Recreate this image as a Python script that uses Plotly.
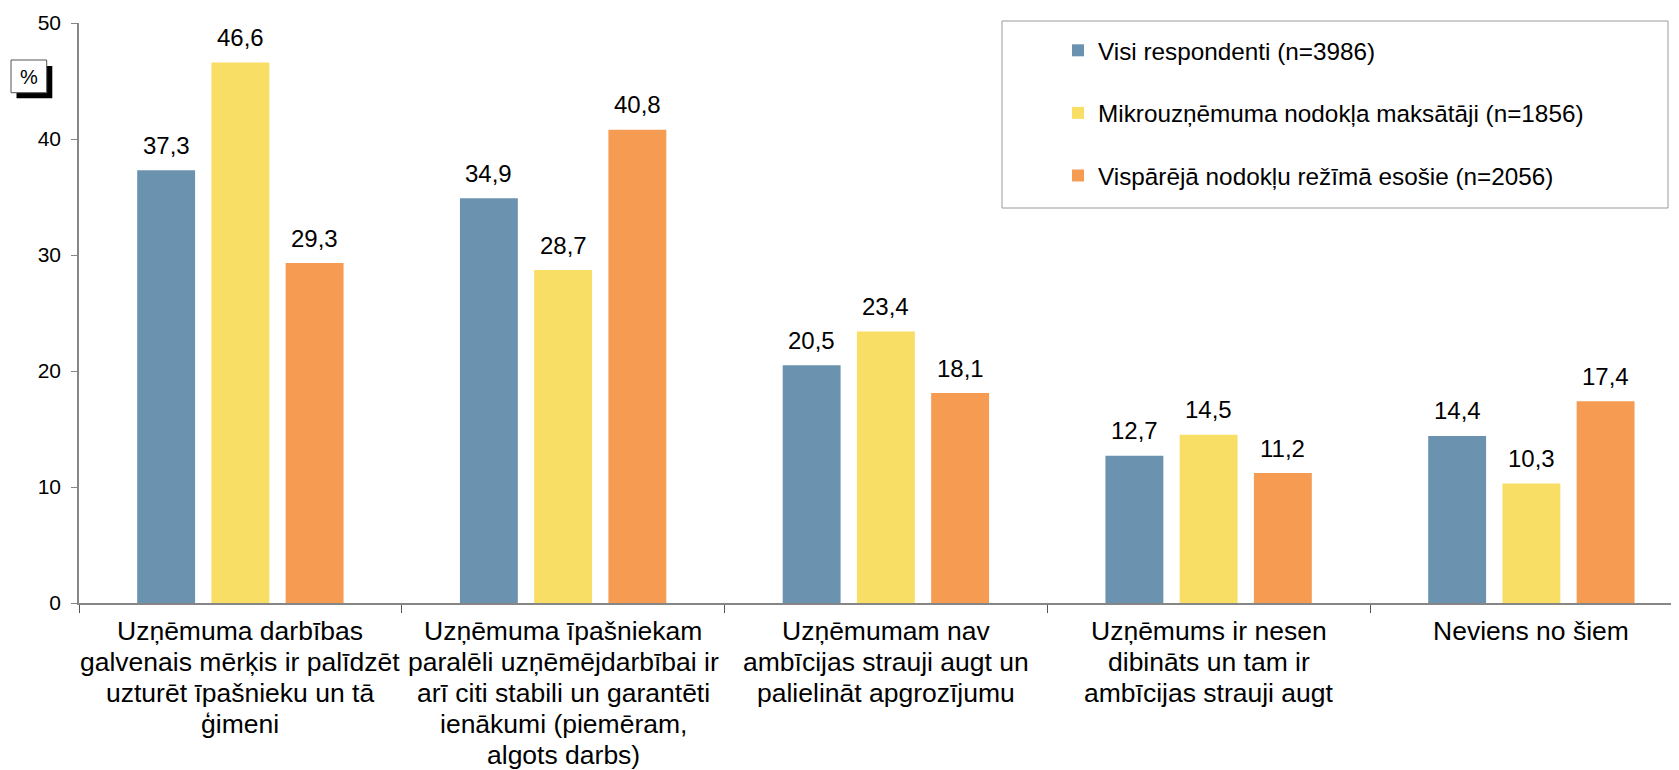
import plotly.graph_objects as go

categories = [
    "Uzņēmuma darbības<br>galvenais mērķis ir palīdzēt<br>uzturēt īpašnieku un tā<br>ģimeni",
    "Uzņēmuma īpašniekam<br>paralēli uzņēmējdarbībai ir<br>arī citi stabili un garantēti<br>ienākumi (piemēram,<br>algots darbs)",
    "Uzņēmumam nav<br>ambīcijas strauji augt un<br>palielināt apgrozījumu",
    "Uzņēmums ir nesen<br>dibināts un tam ir<br>ambīcijas strauji augt",
    "Neviens no šiem",
]
series_names = [
    "Visi respondenti (n=3986)",
    "Mikrouzņēmuma nodokļa maksātāji (n=1856)",
    "Vispārējā nodokļu režīmā esošie (n=2056)",
]
visi = [37.3, 34.9, 20.5, 12.7, 14.4]
mikro = [46.6, 28.7, 23.4, 14.5, 10.3]
vispar = [29.3, 40.8, 18.1, 11.2, 17.4]
colors = ["#6b93b0", "#f9de66", "#f69b52"]

# the page puts the figure 8px in from the top-left corner
OFF = 8
W, H = 1679, 770
ML, MR, MT, MB = 79 - OFF, 0, 23 - OFF, 770 - (603 - OFF)
plot_w = W - ML - MR
plot_h = H - MT - MB
cat_px = 322.75
bargap = 0.31
slot_px = (1 - bargap) / 3 * cat_px
font = "Liberation Sans, Arial, sans-serif"


def px(x):
    # screen pixel -> paper x
    return (x - OFF - ML) / plot_w


def py(y):
    # screen pixel -> paper y
    return (H - MB - (y - OFF)) / plot_h


fig = go.Figure()
for i, (name, vals) in enumerate(zip(series_names, [visi, mikro, vispar])):
    fig.add_trace(go.Bar(x=categories, y=vals, name=name, marker_color=colors[i],
                         marker_line_width=0, legendgroup=str(i)))
    for c, v in zip(categories, vals):
        fig.add_annotation(x=c, y=v, text=f"{v:.1f}".replace(".", ","), showarrow=False,
                           xshift=(i - 1) * slot_px, yshift=25, yanchor="middle",
                           font=dict(size=24, color="black", family=font))

# category labels, one annotation per line (tighter line spacing than plotly's default)
for c in categories:
    for k, line in enumerate(c.split("<br>")):
        fig.add_annotation(x=c, y=0, text=line, showarrow=False, xanchor="center",
                           yanchor="middle", yshift=-(28 + k * 30.9),
                           font=dict(size=26.5, color="black", family=font))

# legend frame
fig.add_shape(type="rect", xref="paper", yref="paper",
              x0=px(1002), x1=px(1668), y0=py(208), y1=py(21),
              line=dict(color="#9a9a9a", width=1), fillcolor="rgba(0,0,0,0)")

# "%" box with shadow
fig.add_shape(type="rect", xref="paper", yref="paper",
              x0=px(16.5), x1=px(52.3), y0=py(98.3), y1=py(66),
              line=dict(color="black", width=0), fillcolor="black")
fig.add_shape(type="rect", xref="paper", yref="paper",
              x0=px(11), x1=px(46.7), y0=py(92.7), y1=py(60),
              line=dict(color="#555555", width=1), fillcolor="white")
fig.add_annotation(xref="paper", yref="paper", x=px(29), y=py(77), text="%",
                   showarrow=False, xanchor="center", yanchor="middle",
                   font=dict(size=20, color="black", family=font))

fig.update_layout(
    width=W, height=H,
    margin=dict(l=ML, r=MR, t=MT, b=MB),
    plot_bgcolor="white", paper_bgcolor="white",
    barmode="group", bargap=bargap, bargroupgap=0.22,
    font=dict(family=font, color="black"),
    legend=dict(x=px(1058), y=py(28), xanchor="left", yanchor="top",
                bgcolor="rgba(0,0,0,0)", borderwidth=0, tracegroupgap=28,
                font=dict(size=24.3, family=font, color="black")),
    xaxis=dict(range=[-0.5, -0.5 + plot_w / cat_px], showline=True, linecolor="#868686",
               linewidth=1.5, ticks="outside", tickson="boundaries", ticklen=8,
               tickcolor="#555555", showticklabels=False,
               showgrid=False, zeroline=False),
    yaxis=dict(range=[0, 50], dtick=10, showline=True, linecolor="#868686", linewidth=1.5,
               ticks="outside", ticklen=6, tickcolor="#868686", ticklabelstandoff=6,
               tickfont=dict(size=21, family=font, color="black"),
               showgrid=False, zeroline=False),
)

fig.write_html("out.html")
